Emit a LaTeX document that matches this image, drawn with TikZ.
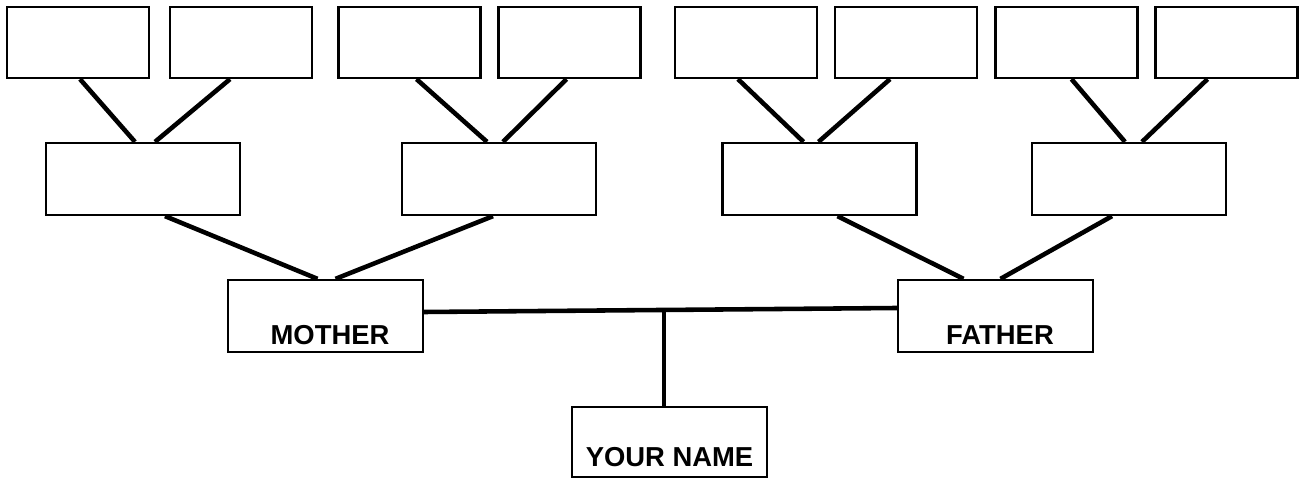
\documentclass[tikz,border=0pt]{standalone}
\usepackage{fontspec}
\setmainfont{Liberation Sans}
\usetikzlibrary{calc}

\begin{document}
\begin{tikzpicture}[x=0.02cm, y=-0.02cm,
	box/.style={draw, line width=1.3pt, inner sep=0pt, fill=white},
	top box/.style={box, minimum width=2.84cm, minimum height=1.42cm},
	mid box/.style={box, minimum width=3.88cm, minimum height=1.44cm},
	name box/.style={box, minimum width=3.9cm, text height=1.3cm, text depth=0.14cm,
		font=\fontsize{15.6}{18}\selectfont\bfseries},
	link/.style={line width=2.6pt}]
		\useasboundingbox (0,0) rectangle (1303,479);
		% great-grandparents
		\foreach \x [count=\i] in {78,241,409.5,569.5,746,906,1066.5,1226.5}{
		  \node[top box] (t\i) at (\x,42.5) {};
		}
		% grandparents
		\node[mid box] (gA) at (143,179) {};
		\node[mid box] (gB) at (499,179) {};
		\node[mid box] (gC) at (819.5,179) {};
		\node[mid box] (gD) at (1129,179) {};
		% parents and you
		\node[name box] (mother) at (325.5,316) {\hspace{0.18cm}MOTHER};
		\node[name box] (father) at (995.5,316) {\hspace{0.18cm}FATHER};
		\node[name box, text height=1.2cm, text depth=0.2cm] (you) at (669.5,442) {YOUR NAME};
		% connectors: from / shift / to / shift
		\foreach \a/\da/\b/\db in {t1/2/gA/-8, t2/-11/gA/12, t3/7/gB/-12, t4/-3/gB/4,
		                           t5/-8/gC/-16, t6/-16/gC/-1, t7/5/gD/-4, t8/-19/gD/13,
		                           gA/22/mother/-8, gB/-6/mother/10, gC/18/father/-32, gD/-17/father/5}{
		  \draw[link] ($(\a.south)+(\da,0)$) -- ($(\b.north)+(\db,0)$);
		}
		\coordinate (join) at ($(mother.east)!0.507!(father.west)+(0,-6)$);
		\draw[link] ($(mother.east)+(0,-4)$) -- ($(father.west)+(0,-8)$);
		\draw[link] (join) -- (join |- you.north);
	\end{tikzpicture}
\end{document}
